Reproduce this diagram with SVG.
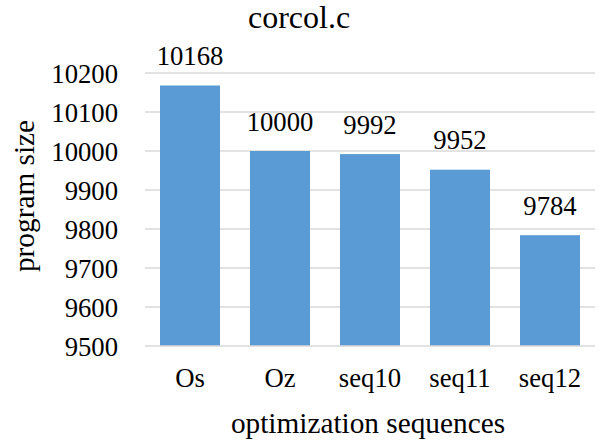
<svg xmlns="http://www.w3.org/2000/svg" width="599" height="440" viewBox="0 0 599 440" font-family="Liberation Serif">
  <rect width="599" height="440" fill="#fff"/>

  <text id="title" x="299" y="28" font-family="Liberation Serif" font-size="32" text-anchor="middle">corcol.c</text>

  <!-- horizontal gridlines, 100 per step -->
  <g id="gridlines" stroke="#D9D9D9" stroke-width="1.5">
    <line x1="145" y1="73" x2="595" y2="73"/>
    <line x1="145" y1="112" x2="595" y2="112"/>
    <line x1="145" y1="151" x2="595" y2="151"/>
    <line x1="145" y1="190" x2="595" y2="190"/>
    <line x1="145" y1="229" x2="595" y2="229"/>
    <line x1="145" y1="268" x2="595" y2="268"/>
    <line x1="145" y1="307" x2="595" y2="307"/>
  </g>

  <g id="y-ticks" text-anchor="end">
    <text x="118" y="82.5" font-family="Liberation Serif" font-size="26.7">10200</text>
    <text x="118" y="121.5" font-family="Liberation Serif" font-size="26.7">10100</text>
    <text x="118" y="160.5" font-family="Liberation Serif" font-size="26.7">10000</text>
    <text x="118" y="199.5" font-family="Liberation Serif" font-size="26.7">9900</text>
    <text x="118" y="238.5" font-family="Liberation Serif" font-size="26.7">9800</text>
    <text x="118" y="277.5" font-family="Liberation Serif" font-size="26.7">9700</text>
    <text x="118" y="316.5" font-family="Liberation Serif" font-size="26.7">9600</text>
    <text x="118" y="355.5" font-family="Liberation Serif" font-size="26.7">9500</text>
  </g>

  <g id="bars" text-anchor="middle">
    <g id="bar-Os">
      <rect x="160" y="85.5" width="60" height="260.5" fill="#5B9BD5"/>
      <text x="190" y="65" font-family="Liberation Serif" font-size="26.7">10168</text>
      <text x="190" y="387" font-family="Liberation Serif" font-size="26.7">Os</text>
    </g>
    <g id="bar-Oz">
      <rect x="250" y="151" width="60" height="195" fill="#5B9BD5"/>
      <text x="280" y="130.5" font-family="Liberation Serif" font-size="26.7">10000</text>
      <text x="280" y="387" font-family="Liberation Serif" font-size="26.7">Oz</text>
    </g>
    <g id="bar-seq10">
      <rect x="340" y="154.1" width="60" height="191.9" fill="#5B9BD5"/>
      <text x="370" y="133.6" font-family="Liberation Serif" font-size="26.7">9992</text>
      <text x="370" y="387" font-family="Liberation Serif" font-size="26.7">seq10</text>
    </g>
    <g id="bar-seq11">
      <rect x="430" y="169.7" width="60" height="176.3" fill="#5B9BD5"/>
      <text x="460" y="149.2" font-family="Liberation Serif" font-size="26.7">9952</text>
      <text x="460" y="387" font-family="Liberation Serif" font-size="26.7">seq11</text>
    </g>
    <g id="bar-seq12">
      <rect x="520" y="235.2" width="60" height="110.8" fill="#5B9BD5"/>
      <text x="550" y="214.7" font-family="Liberation Serif" font-size="26.7">9784</text>
      <text x="550" y="387" font-family="Liberation Serif" font-size="26.7">seq12</text>
    </g>
  </g>

  <!-- category axis -->
  <line x1="145" y1="346" x2="595" y2="346" stroke="#D9D9D9" stroke-width="1.5"/>

  <text id="x-title" x="368" y="433" font-family="Liberation Serif" font-size="29.3" text-anchor="middle">optimization sequences</text>
  <text id="y-title" transform="translate(34,196) rotate(-90)" font-family="Liberation Serif" font-size="29.3" text-anchor="middle">program size</text>
</svg>
